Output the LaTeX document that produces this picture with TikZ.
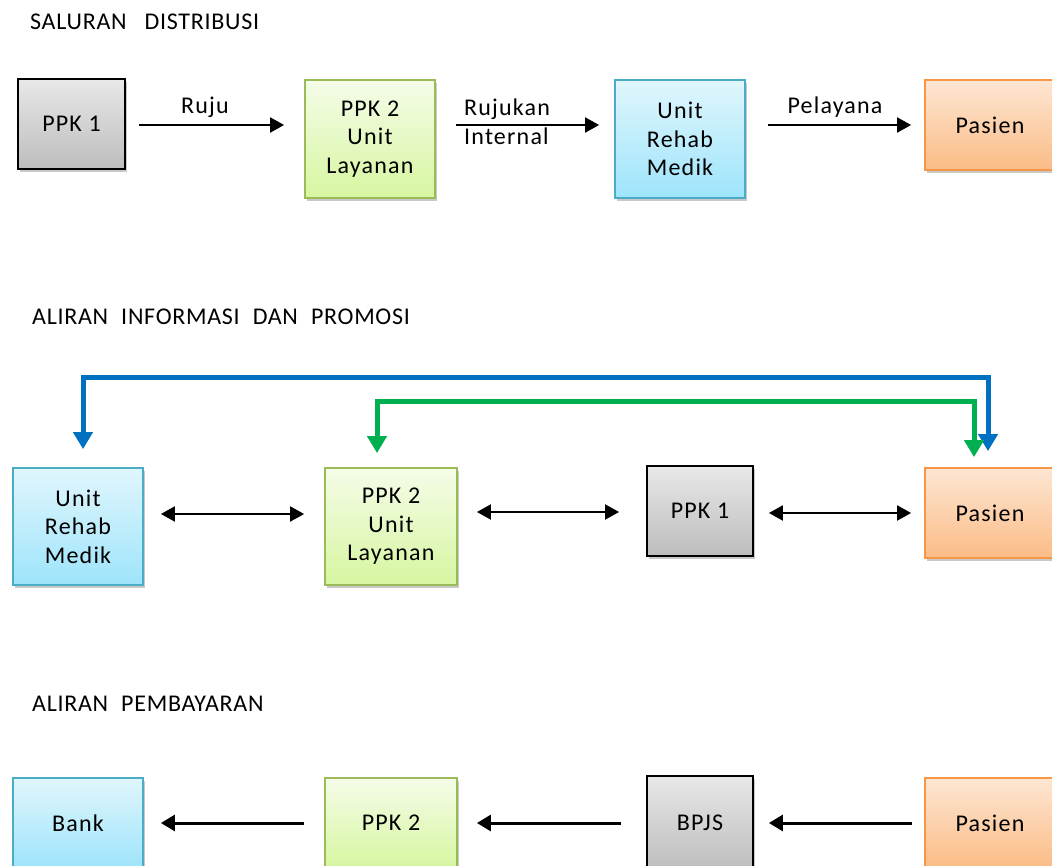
\documentclass[tikz,border=0pt]{standalone}
\usepackage{fontspec}
\setmainfont{Carlito}
\newfontfamily\boxfont[LetterSpace=5]{Carlito}
\newfontfamily\ttlfont[LetterSpace=3]{Carlito}
\usetikzlibrary{arrows.meta,shadows,calc}
\definecolor{grayT}{HTML}{E8E8E8}
\definecolor{grayB}{HTML}{BDBDBD}
\definecolor{greenT}{HTML}{F5FCE8}
\definecolor{greenB}{HTML}{D6F6A0}
\definecolor{greenD}{HTML}{9BBB59}
\definecolor{blueT}{HTML}{E0F6FD}
\definecolor{blueB}{HTML}{9EE4FB}
\definecolor{blueD}{HTML}{4BACC6}
\definecolor{orangeT}{HTML}{FDE6D3}
\definecolor{orangeB}{HTML}{FBBC86}
\definecolor{orangeD}{HTML}{F79646}
\definecolor{lineBlue}{HTML}{0070C0}
\definecolor{lineGreen}{HTML}{00B050}
\newcommand{\wg}{\hspace{13pt}}
\begin{document}
\begin{tikzpicture}[x=1pt,y=-1pt,
  box/.style={line width=1.8pt, align=center, inner sep=0pt,
    font=\boxfont\fontsize{24}{28.5}\selectfont,
    drop shadow={shadow xshift=2pt, shadow yshift=-3pt, opacity=0.3, fill=black!70}},
  graybox/.style={box, draw=black, top color=grayT, bottom color=grayB},
  greenbox/.style={box, draw=greenD, top color=greenT, bottom color=greenB},
  bluebox/.style={box, draw=blueD, top color=blueT, bottom color=blueB},
  orangebox/.style={box, draw=orangeD, top color=orangeT, bottom color=orangeB},
  lbl/.style={font=\boxfont\fontsize{24}{28.5}\selectfont, inner sep=0pt},
  ttl/.style={font=\ttlfont\fontsize{24}{26}\selectfont, inner sep=0pt, anchor=west},
  arr/.style={line width=2pt, -{Triangle[length=14pt,width=15pt]}},
  darr/.style={line width=2pt, {Triangle[length=14pt,width=15pt]}-{Triangle[length=14pt,width=15pt]}},
  larr/.style={line width=3pt, -{Triangle[length=14pt,width=16pt]}},
  bigarr/.style={line width=5pt, line join=miter, {Triangle[length=17pt,width=19pt]}-{Triangle[length=17pt,width=19pt]}}
]
\useasboundingbox (0,0) rectangle (1052,866);
\clip (0,0) rectangle (1052,866);

% ---------- Saluran distribusi ----------
\node[ttl] (t1) at (30,22) {SALURAN\hspace{18pt}DISTRIBUSI};
\node[graybox, minimum width=107, minimum height=90] (p1) at (71.5,124) {PPK 1};
\node[greenbox, minimum width=130, minimum height=118] (b2) at (370,139) {PPK 2\\Unit\\Layanan};
\node[bluebox, minimum width=130, minimum height=118] (c3) at (680,139) {Unit\\Rehab\\Medik};
\node[orangebox, minimum width=130, minimum height=90] (d4) at (990,125) {Pasien};

\draw[arr] ($(p1.east)+(13,1)$) -- ($(b2.west |- p1.east)+(-20,1)$);
\draw[arr] ($(b2.east)+(20,-14)$) -- ($(c3.west)+(-15,-14)$);
\draw[arr] ($(c3.east)+(22,-14)$) -- ($(d4.west)+(-13,0)$);
\node[lbl] (lruju) at (205,107) {Ruju};
\node[lbl, align=left, anchor=west] (lrujuk) at (464,122) {Rujukan\\Internal};
\node[lbl] (lpel) at (835,107) {Pelayana};

% ---------- Aliran informasi dan promosi ----------
\node[ttl] (t2) at (32,317) {ALIRAN\wg INFORMASI\wg DAN\wg PROMOSI};
\node[bluebox, minimum width=130, minimum height=117] (r1) at (78,526.5) {Unit\\Rehab\\Medik};
\node[greenbox, minimum width=132, minimum height=117] (r2) at (391,526.5) {PPK 2\\Unit\\Layanan};
\node[graybox, minimum width=106, minimum height=90] (r3) at (700,511) {PPK 1};
\node[orangebox, minimum width=130, minimum height=90] (r4) at (990,513) {Pasien};

\draw[darr] ($(r1.east)+(17,-12.5)$) -- ($(r2.west)+(-20,-12.5)$);
\draw[darr] ($(r2.east)+(19,-14.5)$) -- ($(r3.west)+(-27,1)$);
\draw[darr] ($(r3.east)+(15,2)$) -- ($(r4.west)+(-13,0)$);

\draw[bigarr, lineBlue] ($(r1.north)+(5,-18)$) -- ++(0,-72) -| ($(r4.north)+(-2,-16)$);
\draw[bigarr, lineGreen] ($(r2.north)+(-14,-14)$) -- ++(0,-52) -| ($(r4.north)+(-16,-10)$);

% ---------- Aliran pembayaran ----------
\node[ttl] (t3) at (32,704) {ALIRAN\wg PEMBAYARAN};
\node[bluebox, minimum width=130, minimum height=90] (q1) at (78,823) {Bank};
\node[greenbox, minimum width=132, minimum height=90] (q2) at (391,823) {PPK 2};
\node[graybox, minimum width=106, minimum height=94] (q3) at (700,823) {BPJS};
\node[orangebox, minimum width=130, minimum height=90] (q4) at (990,823) {Pasien};

\draw[larr] ($(q4.west)+(-12,0)$) -- ($(q3.east)+(15,0)$);
\draw[larr] ($(q3.west)+(-25,0)$) -- ($(q2.east)+(19,0)$);
\draw[larr] ($(q2.west)+(-20,0)$) -- ($(q1.east)+(17,0)$);
\end{tikzpicture}
\end{document}
